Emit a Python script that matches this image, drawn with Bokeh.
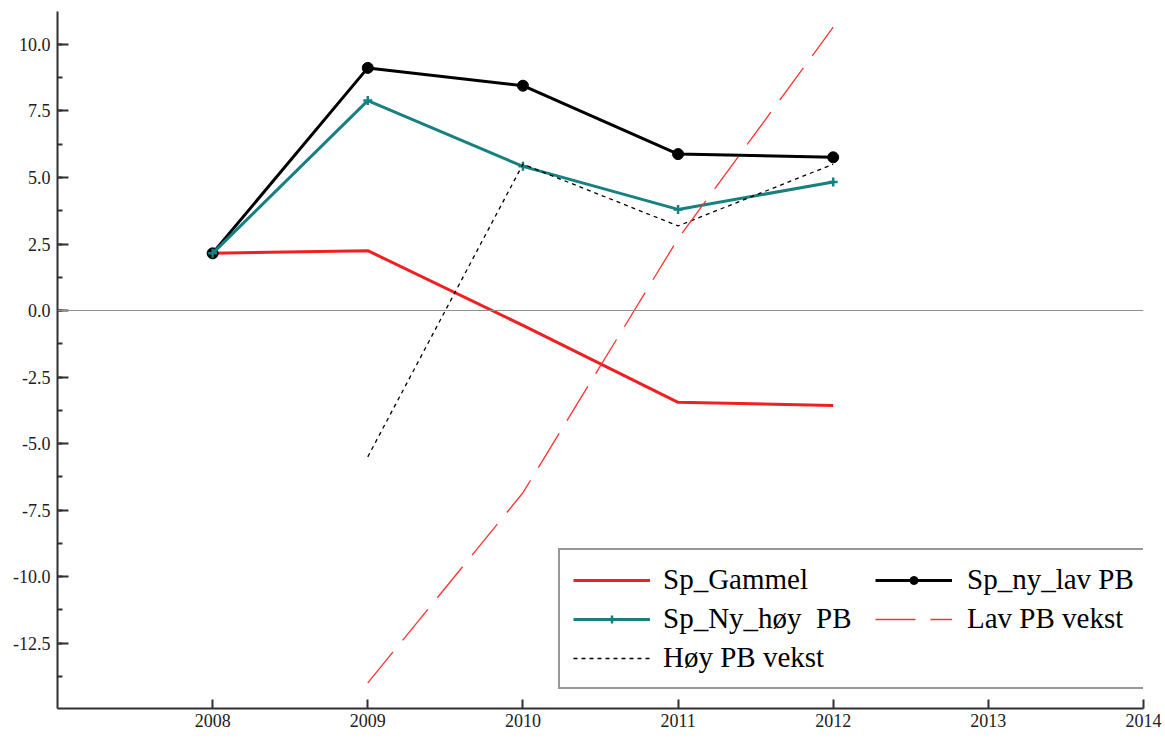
from bokeh.plotting import figure
from bokeh.models import (Legend, LegendItem, Span, FixedTicker,
                          SingleIntervalTicker, NumeralTickFormatter, Range1d)
from bokeh.embed import file_html
from bokeh.resources import INLINE

# ---- data ----
years = [2008, 2009, 2010, 2011, 2012]
sp_gammel = [2.15, 2.25, -0.56, -3.45, -3.57]
sp_ny_lav_pb = [2.15, 9.12, 8.45, 5.88, 5.76]
sp_ny_hoy_pb = [2.15, 7.89, 5.42, 3.80, 4.83]

vekst_years = [2009, 2010, 2011, 2012]
hoy_pb_vekst = [-5.5, 5.5, 3.18, 5.5]
lav_pb_vekst = [-14.0, -6.85, 2.7, 10.65]

x_ticks = [2008, 2009, 2010, 2011, 2012, 2013, 2014]

FONT = "Liberation Serif"

p = figure(width=1162, height=736, output_backend="svg", toolbar_location=None,
           x_range=Range1d(2007, 2014), y_range=Range1d(-14.96, 11.24),
           min_border_left=57, min_border_right=19, min_border_top=11, min_border_bottom=28)
p.outline_line_color = None
p.xgrid.visible = False
p.ygrid.visible = False
p.background_fill_color = "white"

# zero line
p.add_layout(Span(location=0, dimension="width", line_color="#909090", line_width=1.2))

RED = "#f02020"
TEAL = "#178080"

r_gam = p.line(years, sp_gammel, line_color=RED, line_width=3)

r_lav_line = p.line(years, sp_ny_lav_pb, line_color="black", line_width=3)
r_lav_pts = p.scatter(years, sp_ny_lav_pb, marker="circle", size=11, fill_color="black",
                      line_color="black")

r_hoy_line = p.line(years, sp_ny_hoy_pb, line_color=TEAL, line_width=3)
r_hoy_pts = p.scatter(years, sp_ny_hoy_pb, marker="cross", size=9, line_color=TEAL,
                      line_width=2.5)

r_hv = p.line(vekst_years, hoy_pb_vekst, line_color="black", line_width=1.3, line_dash="4 4")
r_lv = p.line(vekst_years, lav_pb_vekst, line_color="#ff3030", line_width=1.3, line_dash="40 15")

# axes
for ax in (p.xaxis[0], p.yaxis[0]):
    ax.axis_line_color = "#303030"
    ax.axis_line_width = 2
    ax.major_tick_line_color = "#303030"
    ax.major_tick_line_width = 2
    ax.minor_tick_line_color = "#303030"
    ax.minor_tick_line_width = 2
    ax.major_tick_out = 0
    ax.minor_tick_out = 0
    ax.major_label_text_font = FONT
    ax.major_label_text_font_size = "18px"
    ax.major_label_text_color = "#202020"

p.xaxis.ticker = FixedTicker(ticks=x_ticks)
p.xaxis.major_tick_in = 9
p.xaxis.minor_tick_line_color = None
p.xaxis.major_label_standoff = 5

p.yaxis.ticker = SingleIntervalTicker(interval=2.5, num_minor_ticks=2)
p.yaxis.formatter = NumeralTickFormatter(format="0.0")
p.yaxis.major_tick_in = 11
p.yaxis.minor_tick_in = 5
p.yaxis.major_label_standoff = 7


def style_legend(lg):
    lg.label_text_font = FONT
    lg.label_text_font_size = "29px"
    lg.label_text_color = "black"
    lg.glyph_width = 77
    lg.label_standoff = 13
    lg.label_height = 32
    lg.spacing = 6
    lg.padding = 13
    lg.margin = 0


# first column (with the surrounding box)
legend_a = Legend(items=[
    LegendItem(label="Sp_Gammel", renderers=[r_gam]),
    LegendItem(label="Sp_Ny_høy  PB", renderers=[r_hoy_line, r_hoy_pts]),
    LegendItem(label="Høy PB vekst", renderers=[r_hv]),
], location=(501, 19), orientation="vertical")
style_legend(legend_a)
legend_a.label_width = 471
legend_a.border_line_color = "#303030"
legend_a.border_line_width = 2
legend_a.background_fill_color = "white"
legend_a.background_fill_alpha = 1
p.add_layout(legend_a, "center")

# second column
legend_b = Legend(items=[
    LegendItem(label="Sp_ny_lav PB", renderers=[r_lav_line, r_lav_pts]),
    LegendItem(label="Lav PB vekst", renderers=[r_lv]),
], location=(818, 73), orientation="vertical")
style_legend(legend_b)
legend_b.label_standoff = 15
legend_b.border_line_color = None
legend_b.background_fill_alpha = 0
p.add_layout(legend_b, "center")

open("out.html", "w").write(file_html(p, INLINE))
